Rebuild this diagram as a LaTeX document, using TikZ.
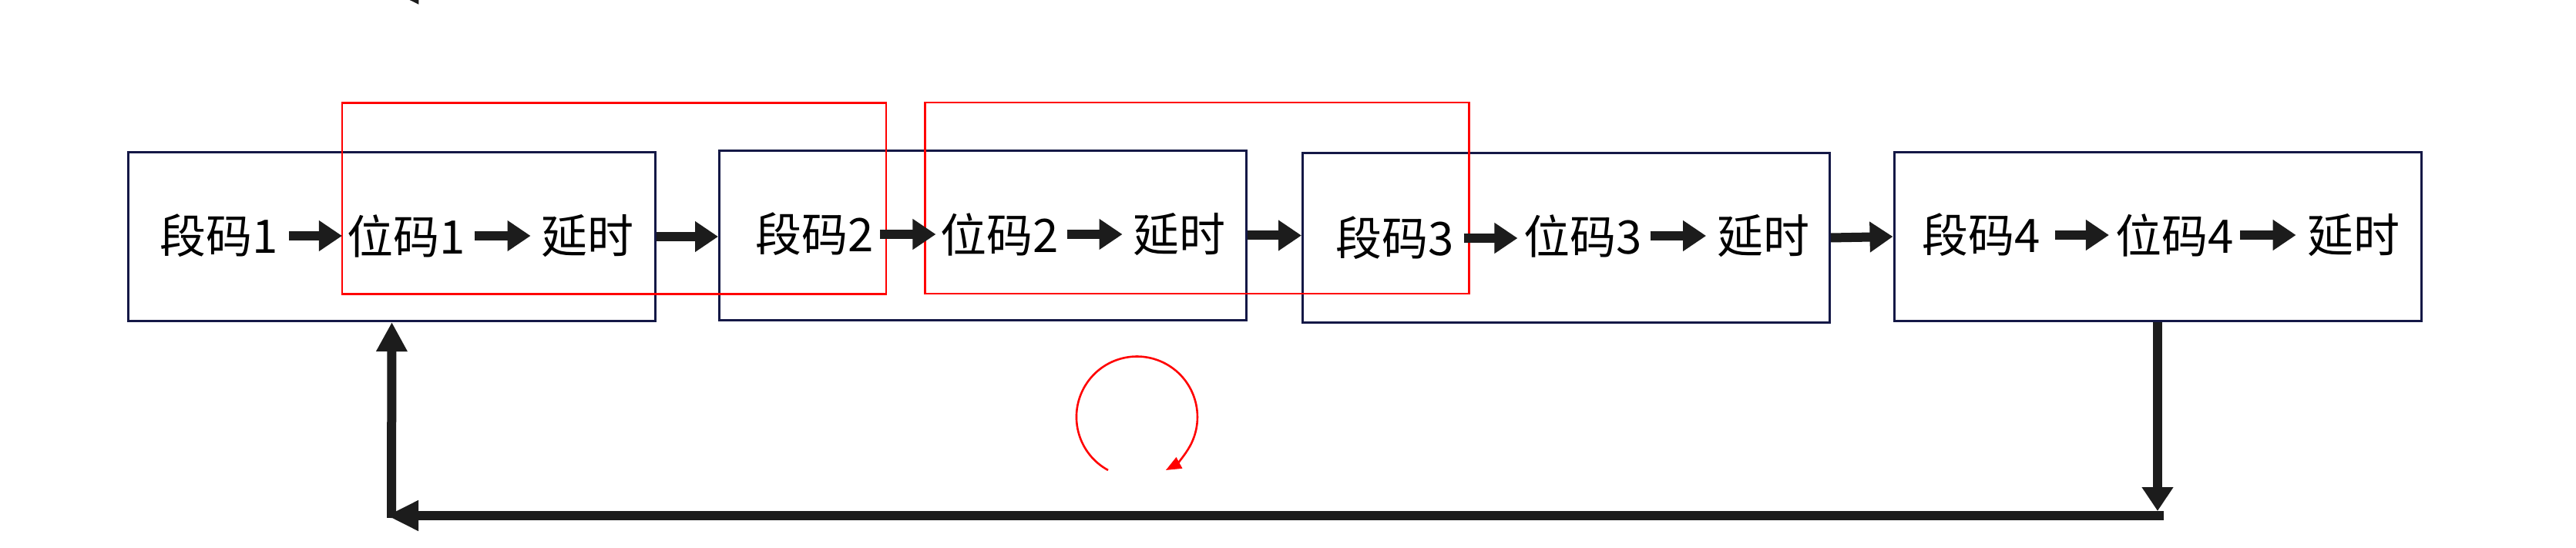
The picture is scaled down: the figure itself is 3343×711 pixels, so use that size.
\documentclass[tikz,border=0pt]{standalone}
\usepackage{fontspec}
\newfontfamily\cjk{Noto Sans CJK SC}
\usetikzlibrary{arrows.meta}
\definecolor{navy}{RGB}{20,24,70}
\definecolor{ink}{RGB}{28,28,28}
\begin{document}
\begin{tikzpicture}[x=0.5pt,y=-0.5pt,
  box/.style={draw=navy,line width=1.5pt,minimum width=342pt,minimum height=109.5pt,inner sep=0pt},
  redbox/.style={draw=red,line width=1.3pt,minimum width=353pt,minimum height=124pt,inner sep=0pt},
  txt/.style={font=\cjk\fontsize{30pt}{36pt}\selectfont,inner sep=0pt,text=black},
  blk/.style={draw=ink,line width=6pt,-{Triangle[length=15pt,width=19pt]}},
  loopln/.style={draw=ink,line width=6pt},
  redarc/.style={draw=red,line width=1.3pt,-{Triangle[length=10pt,width=8pt]}}]
\useasboundingbox (0,0) rectangle (3343,711);
\fill[white] (0,0) rectangle (3343,711);
% boxes
\node[box] (b1) at (508.5,307) {};
\node[box] (b2) at (1275.5,305.5) {};
\node[box] (b3) at (2032.5,308.5) {};
\node[box] (b4) at (2800,307) {};
\node[redbox] (r1) at (797,257.5) {};
\node[redbox] (r2) at (1553.5,257) {};
% texts
\node[txt] (t11) at (284,306) {段码1};
\node[txt] (t12) at (527,306) {位码1};
\node[txt] (t13) at (762,306) {延时};
\node[txt] (t21) at (1057,304) {段码2};
\node[txt] (t22) at (1297.5,304) {位码2};
\node[txt] (t23) at (1530,304) {延时};
\node[txt] (t31) at (1810.5,309) {段码3};
\node[txt] (t32) at (2054.5,306) {位码3};
\node[txt] (t33) at (2288.5,306) {延时};
\node[txt] (t41) at (2571,305) {段码4};
\node[txt] (t42) at (2822,305) {位码4};
\node[txt] (t43) at (3054,305) {延时};
% inner arrows
\draw[blk,shorten <=7pt,shorten >=3pt] (t11.east) -- (t12.west);
\draw[blk,shorten <=6pt,shorten >=6.5pt] (t12.east) -- (t13.west);
\draw[blk,shorten <=4pt,shorten >=3pt] (t21.east) -- (t22.west);
\draw[blk,shorten <=5pt,shorten >=6.5pt] (t22.east) -- (t23.west);
\draw[blk,shorten <=6pt,shorten >=4pt] (t31.east) -- (t31.east -| t32.west);
\draw[blk,shorten <=5pt,shorten >=7pt] (t32.east) -- (t33.west);
\draw[blk,shorten <=9.5pt,shorten >=4pt] (t41.east) -- (t42.west);
\draw[blk,shorten <=4pt,shorten >=7pt] (t42.east) -- (t43.west);
% box to box arrows
\draw[blk] (b1.east) -- (b1.east -| b2.west);
\draw[blk] (b2.east) -- (b2.east -| b3.west);
\draw[blk] (b3.east) -- (b4.west);
% feedback loop
\coordinate (c1) at (2801,663);
\coordinate (c2) at (2807.5,669);
\coordinate (c3) at (502,669);
\coordinate (c4) at (508,672);
\draw[loopln,-{Triangle[length=15.5pt,width=19.5pt]}] (b4.south) -- (b4.south |- c1);
\draw[loopln,-{Triangle[length=20.5pt,width=18.5pt]}] (c2) -- (c3);
\draw[loopln,-{Triangle[length=19pt,width=19pt]}] (c4) -- (b1.south);
% red circular arrow
\coordinate (rs) at (1438,610);
\draw[redarc] (rs) arc[start angle=241.5,end angle=-61.5,radius=39.25pt];
% arrowhead fragment at top edge
\fill[ink] (531.7,0) -- (543.3,0) -- (543.3,5.7) -- cycle;
\end{tikzpicture}
\end{document}
